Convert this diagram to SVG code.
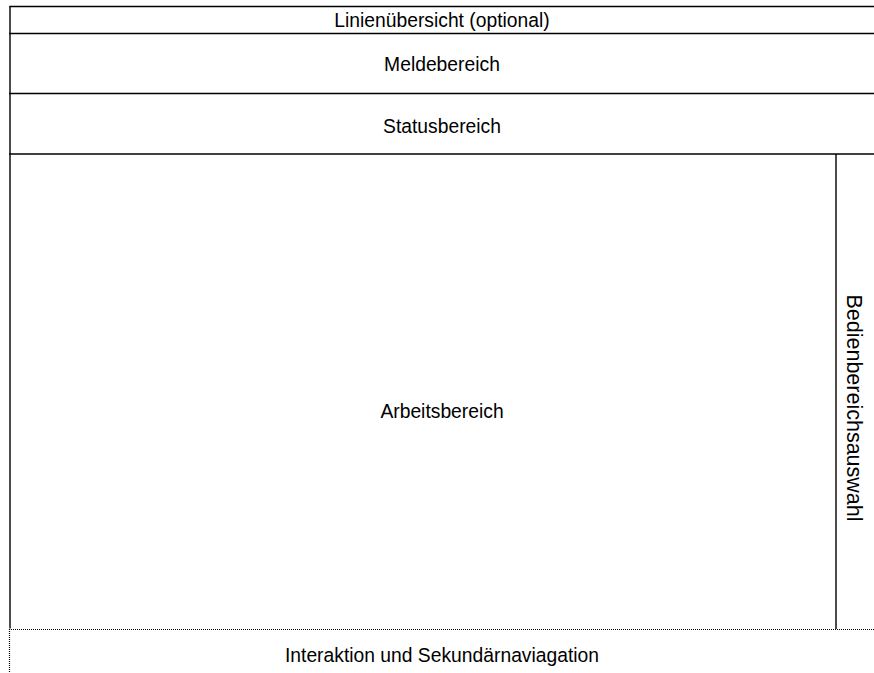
<svg xmlns="http://www.w3.org/2000/svg" width="874" height="673" viewBox="0 0 874 673">
<style>
.ln{stroke:#000;stroke-width:1.4;fill:none}
.dot{stroke:#000;stroke-width:1.2;fill:none;stroke-dasharray:1 1}
.t{font-family:"Liberation Sans",Arial,sans-serif;font-size:19.3px;fill:#000;text-anchor:middle}
.tv{font-size:21.5px}
</style>
<rect width="874" height="673" fill="#fff"/>
<g id="linienuebersicht">
<line class="ln" x1="9.5" y1="6.5" x2="874" y2="6.5"/>
<text class="t" x="442" y="27">Linienübersicht (optional)</text>
</g>
<g id="meldebereich">
<line class="ln" x1="9" y1="33.5" x2="874" y2="33.5"/>
<text class="t" x="442" y="71">Meldebereich</text>
</g>
<g id="statusbereich">
<line class="ln" x1="9" y1="93.5" x2="874" y2="93.5"/>
<text class="t" x="442" y="133">Statusbereich</text>
</g>
<g id="arbeitsbereich">
<line class="ln" x1="9" y1="154" x2="874" y2="154"/>
<line class="ln" x1="10" y1="6" x2="10" y2="628.5"/>
<text class="t" x="442" y="418">Arbeitsbereich</text>
</g>
<g id="bedienbereichsauswahl">
<line class="ln" x1="836" y1="154" x2="836" y2="629"/>
<text class="t tv" transform="translate(847,408) rotate(90)" x="0" y="0">Bedienbereichsauswahl</text>
</g>
<g id="interaktion">
<line class="dot" x1="9" y1="629.5" x2="874" y2="629.5"/>
<line class="dot" x1="9.5" y1="629" x2="9.5" y2="673"/>
<text class="t" x="442" y="662">Interaktion und Sekundärnaviagation</text>
</g>
<g id="connectors"></g>
</svg>
